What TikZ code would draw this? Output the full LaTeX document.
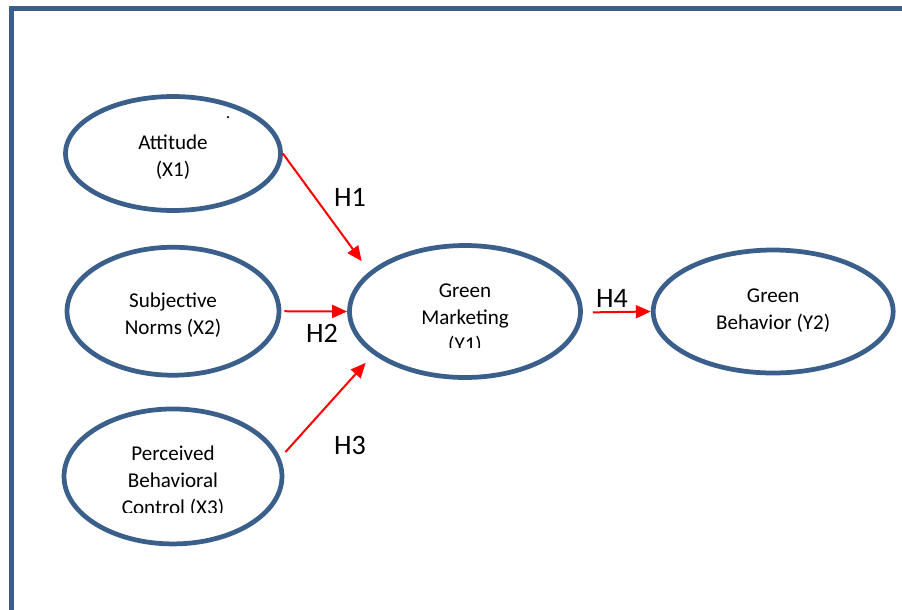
\documentclass[tikz,border=0pt]{standalone}
\usepackage{fontspec}
\setmainfont{Carlito}
\usepackage{tikz}
\usepackage{xcolor}
\usetikzlibrary{arrows.meta,shapes,positioning}

\definecolor{ovalblue}{RGB}{58,95,139}

\begin{document}
\begin{tikzpicture}[
        x=0.02cm, y=-0.02cm,
        construct/.style={ellipse, draw=ovalblue, line width=0.095cm, inner sep=0pt},
        caption/.style={align=center, font=\fontsize{12}{15.4}\selectfont, inner sep=0pt},
        line/.style={draw=red, line width=0.04cm, -{Triangle[length=0.3cm,width=0.26cm]}},
        hlabel/.style={font=\fontsize{16}{19}\selectfont}
    ]
    \clip (0,0) rectangle (902,609);
    \draw [ovalblue, line width=0.1cm] (11.5,640) -- (11.5,8) -- (930,8);

    \node [construct, minimum width=4.3cm, minimum height=2.28cm] (att) at (173,153.5) {};
    \node [construct, minimum width=4.24cm, minimum height=2.56cm, below=0.64cm of att] (subj) {};
    \node [construct, minimum width=4.36cm, minimum height=2.7cm, below=0.58cm of subj] (ctl) {};
    \node [construct, minimum width=4.62cm, minimum height=2.64cm] (market) at (465,311.5) {};
    \node [construct, minimum width=4.8cm, minimum height=2.46cm, right=1.36cm of market] (beh) {};
    \node [circle, fill=black, inner sep=0pt, minimum size=0.05cm] (dot) at (228,117) {};

    % Texts
    \node [caption] (atttext) at ([yshift=-0.07cm]att) {Attitude\\(X1)};
    \node [caption] (subjtext) at ([yshift=-0.07cm]subj) {Subjective\\Norms (X2)};
    \node [caption] (behtext) at ([yshift=0.02cm]beh) {Green\\Behavior (Y2)};
    \begin{scope}
        \clip (300,270) rectangle (630,347);
        \node [caption] (markettext) at (465,319.5) {Green\\Marketing\\(Y1)};
    \end{scope}
    \begin{scope}
        \clip (60,430) rectangle (290,512);
        \node [caption] (ctltext) at (173,482) {Perceived\\Behavioral\\Control (X3)};
    \end{scope}

    \draw [line] (att.east) -- ([shift={(-20,-2)}]market.north west);
    \draw [line, shorten <=0.06cm] (subj.east) -- (market.west);
    \draw [line] ([shift={(7,-2)}]ctl.12) -- ([shift={(-16,3)}]market.south west);
    \draw [line, shorten <=0.2cm] ([yshift=-0.02cm]market.east) -- (beh.west);

    % Labels
    \node [hlabel] (h1) at (350,197) {H1};
    \node [hlabel] (h2) at (322,333) {H2};
    \node [hlabel] (h3) at (350,445) {H3};
    \node [hlabel] (h4) at (612,298) {H4};
\end{tikzpicture}
\end{document}
